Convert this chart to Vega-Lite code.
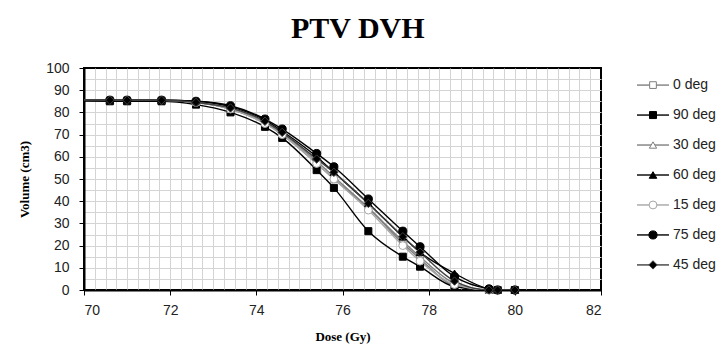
{
  "$schema": "https://vega.github.io/schema/vega-lite/v6.json",
  "padding": {"left": 17, "top": 14, "right": 0, "bottom": 0},
  "background": "white",
  "title": {"text": "PTV DVH", "font": "Liberation Serif", "fontSize": 30, "fontWeight": "bold", "color": "black", "anchor": "middle", "offset": 16, "dx": -9},
  "config": {
    "view": {"stroke": "black", "strokeWidth": 2},
    "axis": {"labelFont": "Liberation Sans", "labelFontSize": 14, "labelColor": "#222", "titleFont": "Liberation Serif", "titleFontSize": 13, "titleFontWeight": "bold", "titleColor": "black", "domainColor": "black", "domainWidth": 2, "tickColor": "black", "tickSize": 5, "gridColor": "#d4d4d4", "gridWidth": 1}
  },
  "datasets": {
    "dvh": [
      {"series": "0 deg", "dose": 65, "volume": 85.6}, {"series": "0 deg", "dose": 70.6, "volume": 85.5}, {"series": "0 deg", "dose": 71.0, "volume": 85.5}, {"series": "0 deg", "dose": 71.8, "volume": 85.5}, {"series": "0 deg", "dose": 72.6, "volume": 84.5}, {"series": "0 deg", "dose": 73.4, "volume": 81.5}, {"series": "0 deg", "dose": 74.2, "volume": 75}, {"series": "0 deg", "dose": 74.6, "volume": 70}, {"series": "0 deg", "dose": 75.4, "volume": 57}, {"series": "0 deg", "dose": 75.8, "volume": 50}, {"series": "0 deg", "dose": 76.6, "volume": 37}, {"series": "0 deg", "dose": 77.4, "volume": 21}, {"series": "0 deg", "dose": 77.8, "volume": 14}, {"series": "0 deg", "dose": 78.6, "volume": 2}, {"series": "0 deg", "dose": 79.4, "volume": 0}, {"series": "0 deg", "dose": 79.6, "volume": 0}, {"series": "0 deg", "dose": 80.0, "volume": 0},
      {"series": "90 deg", "dose": 65, "volume": 85.6}, {"series": "90 deg", "dose": 70.6, "volume": 85}, {"series": "90 deg", "dose": 71.0, "volume": 85}, {"series": "90 deg", "dose": 71.8, "volume": 85}, {"series": "90 deg", "dose": 72.6, "volume": 83.5}, {"series": "90 deg", "dose": 73.4, "volume": 80}, {"series": "90 deg", "dose": 74.2, "volume": 73.5}, {"series": "90 deg", "dose": 74.6, "volume": 68.5}, {"series": "90 deg", "dose": 75.4, "volume": 54}, {"series": "90 deg", "dose": 75.8, "volume": 46}, {"series": "90 deg", "dose": 76.6, "volume": 26.5}, {"series": "90 deg", "dose": 77.4, "volume": 15}, {"series": "90 deg", "dose": 77.8, "volume": 10.5}, {"series": "90 deg", "dose": 78.6, "volume": 1.5}, {"series": "90 deg", "dose": 79.4, "volume": 0}, {"series": "90 deg", "dose": 79.6, "volume": 0}, {"series": "90 deg", "dose": 80.0, "volume": 0},
      {"series": "30 deg", "dose": 65, "volume": 85.6}, {"series": "30 deg", "dose": 70.6, "volume": 85.5}, {"series": "30 deg", "dose": 71.0, "volume": 85.5}, {"series": "30 deg", "dose": 71.8, "volume": 85.5}, {"series": "30 deg", "dose": 72.6, "volume": 84.5}, {"series": "30 deg", "dose": 73.4, "volume": 81.5}, {"series": "30 deg", "dose": 74.2, "volume": 75.5}, {"series": "30 deg", "dose": 74.6, "volume": 70.5}, {"series": "30 deg", "dose": 75.4, "volume": 58}, {"series": "30 deg", "dose": 75.8, "volume": 51}, {"series": "30 deg", "dose": 76.6, "volume": 37}, {"series": "30 deg", "dose": 77.4, "volume": 22}, {"series": "30 deg", "dose": 77.8, "volume": 15}, {"series": "30 deg", "dose": 78.6, "volume": 3}, {"series": "30 deg", "dose": 79.4, "volume": 0}, {"series": "30 deg", "dose": 79.6, "volume": 0}, {"series": "30 deg", "dose": 80.0, "volume": 0},
      {"series": "60 deg", "dose": 65, "volume": 85.6}, {"series": "60 deg", "dose": 70.6, "volume": 85.5}, {"series": "60 deg", "dose": 71.0, "volume": 85.5}, {"series": "60 deg", "dose": 71.8, "volume": 85.5}, {"series": "60 deg", "dose": 72.6, "volume": 85}, {"series": "60 deg", "dose": 73.4, "volume": 82.5}, {"series": "60 deg", "dose": 74.2, "volume": 76.5}, {"series": "60 deg", "dose": 74.6, "volume": 71.5}, {"series": "60 deg", "dose": 75.4, "volume": 60}, {"series": "60 deg", "dose": 75.8, "volume": 53}, {"series": "60 deg", "dose": 76.6, "volume": 39}, {"series": "60 deg", "dose": 77.4, "volume": 24}, {"series": "60 deg", "dose": 77.8, "volume": 17}, {"series": "60 deg", "dose": 78.6, "volume": 7.5}, {"series": "60 deg", "dose": 79.4, "volume": 0.5}, {"series": "60 deg", "dose": 79.6, "volume": 0}, {"series": "60 deg", "dose": 80.0, "volume": 0},
      {"series": "15 deg", "dose": 65, "volume": 85.6}, {"series": "15 deg", "dose": 70.6, "volume": 85.5}, {"series": "15 deg", "dose": 71.0, "volume": 85.5}, {"series": "15 deg", "dose": 71.8, "volume": 85.5}, {"series": "15 deg", "dose": 72.6, "volume": 84.5}, {"series": "15 deg", "dose": 73.4, "volume": 81.5}, {"series": "15 deg", "dose": 74.2, "volume": 75}, {"series": "15 deg", "dose": 74.6, "volume": 70}, {"series": "15 deg", "dose": 75.4, "volume": 57}, {"series": "15 deg", "dose": 75.8, "volume": 50}, {"series": "15 deg", "dose": 76.6, "volume": 36}, {"series": "15 deg", "dose": 77.4, "volume": 20}, {"series": "15 deg", "dose": 77.8, "volume": 13}, {"series": "15 deg", "dose": 78.6, "volume": 2.5}, {"series": "15 deg", "dose": 79.4, "volume": 0}, {"series": "15 deg", "dose": 79.6, "volume": 0}, {"series": "15 deg", "dose": 80.0, "volume": 0},
      {"series": "75 deg", "dose": 65, "volume": 85.6}, {"series": "75 deg", "dose": 70.6, "volume": 85.5}, {"series": "75 deg", "dose": 71.0, "volume": 85.5}, {"series": "75 deg", "dose": 71.8, "volume": 85.5}, {"series": "75 deg", "dose": 72.6, "volume": 85}, {"series": "75 deg", "dose": 73.4, "volume": 83}, {"series": "75 deg", "dose": 74.2, "volume": 77}, {"series": "75 deg", "dose": 74.6, "volume": 72.5}, {"series": "75 deg", "dose": 75.4, "volume": 61.5}, {"series": "75 deg", "dose": 75.8, "volume": 55.5}, {"series": "75 deg", "dose": 76.6, "volume": 41}, {"series": "75 deg", "dose": 77.4, "volume": 26.5}, {"series": "75 deg", "dose": 77.8, "volume": 19.5}, {"series": "75 deg", "dose": 78.6, "volume": 6}, {"series": "75 deg", "dose": 79.4, "volume": 0.5}, {"series": "75 deg", "dose": 79.6, "volume": 0}, {"series": "75 deg", "dose": 80.0, "volume": 0},
      {"series": "45 deg", "dose": 65, "volume": 85.6}, {"series": "45 deg", "dose": 70.6, "volume": 85.5}, {"series": "45 deg", "dose": 71.0, "volume": 85.5}, {"series": "45 deg", "dose": 71.8, "volume": 85.5}, {"series": "45 deg", "dose": 72.6, "volume": 84.5}, {"series": "45 deg", "dose": 73.4, "volume": 82}, {"series": "45 deg", "dose": 74.2, "volume": 76}, {"series": "45 deg", "dose": 74.6, "volume": 71}, {"series": "45 deg", "dose": 75.4, "volume": 59}, {"series": "45 deg", "dose": 75.8, "volume": 53}, {"series": "45 deg", "dose": 76.6, "volume": 39}, {"series": "45 deg", "dose": 77.4, "volume": 24}, {"series": "45 deg", "dose": 77.8, "volume": 17}, {"series": "45 deg", "dose": 78.6, "volume": 4}, {"series": "45 deg", "dose": 79.4, "volume": 0}, {"series": "45 deg", "dose": 79.6, "volume": 0}, {"series": "45 deg", "dose": 80.0, "volume": 0}
    ],
    "series": [
      {"series": "0 deg"}, {"series": "90 deg"}, {"series": "30 deg"}, {"series": "60 deg"}, {"series": "15 deg"}, {"series": "75 deg"}, {"series": "45 deg"}
    ]
  },
  "hconcat": [
    {
      "width": 517,
      "height": 222,
      "data": {"name": "dvh"},
      "layer": [
        {
          "mark": {"type": "line", "interpolate": "monotone", "clip": true, "strokeWidth": 1.4},
          "encoding": {
            "x": {"field": "dose", "type": "quantitative", "scale": {"domain": [70, 82], "nice": false, "zero": false},
                  "axis": {"orient": "bottom", "values": [70, 72, 74, 76, 78, 80, 82], "grid": false, "title": "Dose (Gy)", "labelPadding": 8, "titlePadding": 13}},
            "y": {"field": "volume", "type": "quantitative", "scale": {"domain": [0, 100], "nice": false},
                  "axis": {"orient": "left", "values": [0, 10, 20, 30, 40, 50, 60, 70, 80, 90, 100], "grid": false, "title": "Volume  (cm3)", "labelPadding": 10, "titlePadding": 14}},
            "detail": {"field": "series"},
            "stroke": {"field": "series", "type": "nominal", "legend": null,
                       "scale": {"domain": ["0 deg", "90 deg", "30 deg", "60 deg", "15 deg", "75 deg", "45 deg"], "range": ["#7f7f7f", "#000000", "#7f7f7f", "#000000", "#a6a6a6", "#000000", "#404040"]}}
          }
        },
        {
          "transform": [{"filter": "datum.dose >= 70"}],
          "mark": {"type": "point", "filled": false, "strokeWidth": 1, "opacity": 1},
          "encoding": {
            "x": {"field": "dose", "type": "quantitative",
                  "axis": {"orient": "bottom", "values": [70.25, 70.5, 70.75, 71, 71.25, 71.5, 71.75, 72, 72.25, 72.5, 72.75, 73, 73.25, 73.5, 73.75, 74, 74.25, 74.5, 74.75, 75, 75.25, 75.5, 75.75, 76, 76.25, 76.5, 76.75, 77, 77.25, 77.5, 77.75, 78, 78.25, 78.5, 78.75, 79, 79.25, 79.5, 79.75, 80, 80.25, 80.5, 80.75, 81, 81.25, 81.5, 81.75], "grid": true, "labels": false, "ticks": false, "domain": false, "title": null}},
            "y": {"field": "volume", "type": "quantitative",
                  "axis": {"orient": "left", "values": [5, 10, 15, 20, 25, 30, 35, 40, 45, 50, 55, 60, 65, 70, 75, 80, 85, 90, 95], "grid": true, "labels": false, "ticks": false, "domain": false, "title": null}},
            "shape": {"field": "series", "type": "nominal", "legend": null,
                      "scale": {"domain": ["0 deg", "90 deg", "30 deg", "60 deg", "15 deg", "75 deg", "45 deg"], "range": ["square", "square", "triangle-up", "triangle-up", "circle", "circle", "diamond"]}},
            "fill": {"field": "series", "type": "nominal", "legend": null,
                     "scale": {"domain": ["0 deg", "90 deg", "30 deg", "60 deg", "15 deg", "75 deg", "45 deg"], "range": ["#ffffff", "#000000", "#ffffff", "#000000", "#ffffff", "#000000", "#000000"]}},
            "stroke": {"field": "series", "type": "nominal", "legend": null},
            "size": {"field": "series", "type": "nominal", "legend": null,
                     "scale": {"domain": ["0 deg", "90 deg", "30 deg", "60 deg", "15 deg", "75 deg", "45 deg"], "range": [45, 70, 45, 70, 45, 80, 40]}}
          }
        }
      ],
      "resolve": {"axis": {"x": "independent", "y": "independent"}}
    },
    {
      "width": 100,
      "height": 214,
      "view": {"stroke": null},
      "data": {"name": "series"},
      "encoding": {
        "y": {"field": "series", "type": "nominal", "axis": null,
              "scale": {"type": "point", "domain": ["0 deg", "90 deg", "30 deg", "60 deg", "15 deg", "75 deg", "45 deg"], "padding": 0.57}}
      },
      "layer": [
        {
          "mark": {"type": "rule", "strokeWidth": 1.4},
          "encoding": {
            "x": {"datum": 26, "type": "quantitative", "scale": {"domain": [0, 100], "nice": false}, "axis": null},
            "x2": {"datum": 58},
            "stroke": {"field": "series", "type": "nominal", "legend": null}
          }
        },
        {
          "mark": {"type": "point", "filled": false, "strokeWidth": 1, "opacity": 1},
          "encoding": {
            "x": {"datum": 42, "type": "quantitative"},
            "shape": {"field": "series", "type": "nominal", "legend": null},
            "fill": {"field": "series", "type": "nominal", "legend": null},
            "stroke": {"field": "series", "type": "nominal", "legend": null},
            "size": {"field": "series", "type": "nominal", "legend": null}
          }
        },
        {
          "mark": {"type": "text", "align": "left", "baseline": "middle", "font": "Liberation Sans", "fontSize": 14, "color": "#222"},
          "encoding": {
            "x": {"datum": 62, "type": "quantitative"},
            "text": {"field": "series"}
          }
        }
      ]
    }
  ],
  "spacing": 8
}
